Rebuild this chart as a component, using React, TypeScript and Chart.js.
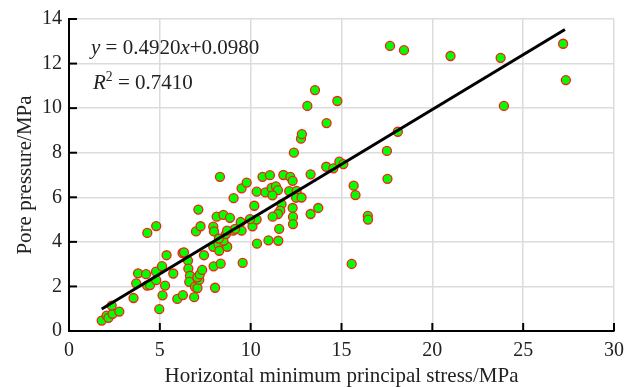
import { useEffect, useRef } from "react";
import { Chart, registerables } from "chart.js";
Chart.register(...registerables);

const stressX = [
  1.8, 2.07, 2.17, 2.4, 2.35, 2.77, 3.55, 3.7, 3.8, 4.24, 4.31, 4.3, 4.46, 4.8, 4.79, 4.8, 4.97,
  5.12, 5.15, 5.29, 5.37, 5.74, 5.96, 6.27, 6.25, 6.33, 6.55, 6.57, 6.66, 6.62, 6.89, 6.93, 7.07,
  7.17, 7.06, 7.2, 7.33, 7.43, 6.99, 7.12, 7.24, 7.94, 7.98, 7.96, 8.04, 8.35, 7.94, 8.22, 8.27,
  8.71, 8.5, 8.64, 9.04, 9.5, 9.56, 8.13, 8.31, 8.5, 8.86, 9.06, 9.5, 9.78, 9.45, 9.14, 10.1, 10.2,
  10.33, 9.96, 10.35, 10.33, 10.65, 11.06, 10.81, 11.15, 11.39, 11.5, 11.2, 11.8, 12.18, 12.31,
  12.12, 12.53, 12.5, 12.8, 11.7, 11.63, 11.5, 11.21, 12.31, 12.33, 12.33, 11.57, 10.98, 11.52,
  12.38, 12.77, 12.82, 13.12, 13.54, 14.77, 14.18, 13.3, 14.16, 14.55, 14.88, 15.1, 13.72, 13.3,
  15.67, 15.77, 16.45, 16.46, 15.56, 17.5, 17.53, 18.1, 17.67, 18.44, 21.0, 23.76, 23.94, 27.2,
  27.35, 8.7, 8.25,
];
const porePressure = [
  0.47, 0.69, 0.59, 0.77, 1.14, 0.87, 1.48, 2.14, 2.59, 2.55, 4.4, 2.04, 2.06, 4.71, 2.66, 2.28, 0.98,
  2.91, 1.6, 2.04, 3.4, 2.58, 1.44, 1.61, 3.5, 3.53, 3.16, 2.8, 2.48, 2.2, 1.52, 1.98, 1.93,
  2.29, 2.41, 2.54, 2.74, 3.4, 4.47, 5.45, 4.7, 4.68, 4.47, 2.9, 1.94, 3.02, 3.78, 3.9, 3.6,
  3.78, 4.05, 4.35, 4.5, 4.5, 3.06, 5.13, 6.92, 5.21, 5.08, 5.96, 6.4, 6.66, 4.89, 4.58, 4.7, 5.62,
  5.0, 5.02, 3.92, 6.25, 6.92, 6.99, 6.22, 6.42, 6.49, 6.32, 6.09, 7.0, 6.92, 6.74,
  6.28, 6.29, 5.98, 5.99, 5.69, 5.4, 5.25, 5.13, 5.52, 5.12, 4.8, 4.58, 4.07, 4.05,
  8.0, 8.63, 8.83, 10.1, 10.81, 10.32, 9.33, 7.03, 7.37, 7.3, 7.6, 7.49, 5.52, 5.25,
  6.52, 6.1, 5.17, 5.0, 3.01, 8.08, 6.83, 8.94, 12.79, 12.6, 12.34, 12.26, 10.1, 12.89,
  11.26, 4.5, 4.15,
];
const fitSlope = 0.492;
const fitIntercept = 0.098;
const fitXRange = [1.8, 27.3];
const xTickValues = [0, 5, 10, 15, 20, 25, 30];
const yTickValues = [0, 2, 4, 6, 8, 10, 12, 14];
const equationText = "0.4920";
const interceptText = "0.0980";
const r2Text = "0.7410";

const FONT = '"Liberation Serif", "Times New Roman", serif';
const TEXT = "#222";

const innerTicks = {
  id: "innerTicks",
  afterDraw(chart: any) {
    const { ctx, chartArea, scales } = chart;
    ctx.save();
    ctx.strokeStyle = "#000";
    ctx.lineWidth = 2;
    xTickValues.forEach((v) => {
      const px = scales.x.getPixelForValue(v);
      ctx.beginPath();
      ctx.moveTo(px, chartArea.bottom);
      ctx.lineTo(px, chartArea.bottom - 8);
      ctx.stroke();
    });
    yTickValues.forEach((v) => {
      const py = scales.y.getPixelForValue(v);
      ctx.beginPath();
      ctx.moveTo(chartArea.left, py);
      ctx.lineTo(chartArea.left + 8, py);
      ctx.stroke();
    });
    ctx.restore();
  },
};

function drawRich(ctx: any, segs: { t: string; it?: boolean; sup?: boolean }[], x: number, y: number, size: number) {
  let cx = x;
  segs.forEach((s) => {
    const sz = s.sup ? size * 0.65 : size;
    ctx.font = `${s.it ? "italic " : ""}${sz}px ${FONT}`;
    ctx.fillText(s.t, cx, s.sup ? y - size * 0.4 : y);
    cx += ctx.measureText(s.t).width;
  });
}

const annotation = {
  id: "annotation",
  afterDraw(chart: any) {
    const { ctx } = chart;
    ctx.save();
    ctx.fillStyle = TEXT;
    ctx.textBaseline = "alphabetic";
    ctx.textAlign = "left";
    drawRich(ctx, [
      { t: "y", it: true },
      { t: " = " + equationText },
      { t: "x", it: true },
      { t: "+" + interceptText },
    ], 91, 54, 21);
    drawRich(ctx, [
      { t: "R", it: true },
      { t: "2", sup: true },
      { t: " = " + r2Text },
    ], 93, 89, 21);
    ctx.restore();
  },
};

export default function App() {
  const ref = useRef<HTMLCanvasElement>(null);
  useEffect(() => {
    if (!ref.current) return;
    const chart = new Chart(ref.current, {
      type: "scatter",
      data: {
        datasets: [
          {
            type: "line",
            data: fitXRange.map((x) => ({ x, y: fitSlope * x + fitIntercept })),
            borderColor: "#000",
            borderWidth: 3,
            pointRadius: 0,
            order: 0,
          } as any,
          {
            data: stressX.map((x, i) => ({ x, y: porePressure[i] })),
            backgroundColor: "#00ff00",
            borderColor: "#ff1a1a",
            borderWidth: 1.3,
            pointRadius: 4.5,
            order: 1,
          },
        ],
      },
      options: {
        responsive: false,
        animation: false,
        events: [],
        layout: { padding: { top: 18, right: 23, left: 0, bottom: 0 } },
        plugins: { legend: { display: false }, tooltip: { enabled: false } },
        scales: {
          x: {
            type: "linear",
            min: 0,
            max: 30,
            afterBuildTicks: (s: any) => { s.ticks = xTickValues.map((v) => ({ value: v })); },
            afterFit: (s: any) => { s.height = 56; },
            ticks: { font: { family: FONT, size: 20 }, color: TEXT, padding: 8 },
            grid: { color: "#dcdcdc", lineWidth: 1.5, drawTicks: false },
            border: { display: true, color: "#000", width: 2 },
            title: {
              display: true,
              text: "Horizontal minimum principal stress/MPa",
              font: { family: FONT, size: 21, lineHeight: 1 },
              color: TEXT,
              padding: { top: 0, bottom: 0 },
            },
          },
          y: {
            type: "linear",
            min: 0,
            max: 14,
            afterBuildTicks: (s: any) => { s.ticks = yTickValues.map((v) => ({ value: v })); },
            afterFit: (s: any) => { s.width = 69; },
            ticks: { font: { family: FONT, size: 20 }, color: TEXT, padding: 7 },
            grid: { color: "#dcdcdc", lineWidth: 1.5, drawTicks: false },
            border: { display: true, color: "#000", width: 2 },
            title: {
              display: true,
              text: "Pore pressure/MPa",
              font: { family: FONT, size: 21, lineHeight: 1 },
              color: TEXT,
              padding: { top: 15, bottom: 0 },
            },
          },
        },
      },
      plugins: [innerTicks, annotation],
    });
    return () => chart.destroy();
  }, []);
  return (
    <div style={{ position: "fixed", left: 0, top: 0, width: 637, height: 387, background: "#fff" }}>
      <canvas ref={ref} width={637} height={387} />
    </div>
  );
}
